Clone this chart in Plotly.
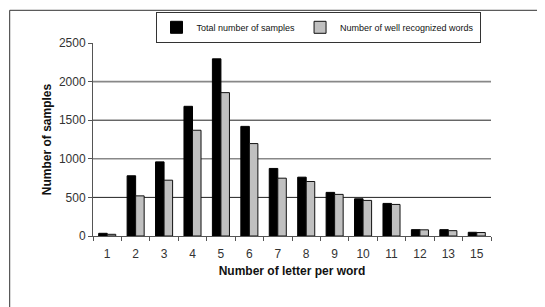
import plotly.graph_objects as go

categories = ["1", "2", "3", "4", "5", "6", "7", "8", "9", "10", "11", "12", "13", "15"]
total_samples = [35, 780, 960, 1680, 2295, 1420, 875, 762, 565, 482, 422, 82, 82, 48]
well_recognized = [22, 520, 723, 1370, 1857, 1197, 749, 706, 539, 461, 409, 80, 69, 45]
y_ticks = [0, 500, 1000, 1500, 2000, 2500]

# page body adds an 8px offset; compensate
OFF = 8
L, T = 93 - OFF, 42.7 - OFF
PW, PH = 398, 193
W, H = 545, 307

fig = go.Figure()
fig.add_trace(go.Bar(x=categories, y=total_samples, name="Total number of samples",
                     marker=dict(color="#000000", line=dict(color="#000000", width=1))))
fig.add_trace(go.Bar(x=categories, y=well_recognized, name="Number of well recognized words",
                     marker=dict(color="#c0c0c0", line=dict(color="#111111", width=1))))

# gridlines (alternating dark / light like the reference)
for i, v in enumerate(y_ticks[1:-1]):
    fig.add_shape(type="line", xref="paper", yref="y", x0=0, x1=1, y0=v, y1=v,
                  line=dict(color="#222222" if i % 2 == 0 else "#888888",
                            width=1 if i % 2 == 0 else 1.6),
                  layer="below")

# outer chart border
fig.add_shape(type="rect", xref="paper", yref="paper",
              x0=(9.7 - 93) / PW, x1=(570 - 93) / PW,
              y0=-(330 - 235.7) / PH, y1=1 + (42.7 - 10) / PH,
              line=dict(color="#333333", width=1), fillcolor="rgba(0,0,0,0)", layer="below")

fig.update_layout(
    width=W, height=H,
    margin=dict(l=L, r=W - L - PW, t=T, b=H - T - PH, autoexpand=False),
    paper_bgcolor="white", plot_bgcolor="white",
    barmode="group", bargap=0.4, bargroupgap=0,
    font=dict(family="Arial, Liberation Sans, sans-serif", size=12, color="#222222"),
    showlegend=True,
    legend=dict(orientation="h", x=(318 - 93) / PW, xanchor="center", y=1 + (42.7 - 11.5) / PH, yanchor="top",
                bordercolor="#333333", borderwidth=1, bgcolor="white",
                font=dict(family="Arial, Liberation Sans, sans-serif", size=9, color="#111111"),
                itemwidth=30, tracegroupgap=0),
    xaxis=dict(type="category", showline=True, linecolor="#555555", ticks="outside",
               tickson="boundaries", ticklen=4, tickcolor="#555555", showgrid=False,
               ticklabelstandoff=7,
               title=dict(text="<b>Number of letter per word</b>", font=dict(size=12, color="#111111"),
                          standoff=6),
               tickfont=dict(size=12, color="#333333")),
    yaxis=dict(range=[0, 2500], tickvals=y_ticks, showline=True, linecolor="#555555",
               ticks="outside", ticklen=4, tickcolor="#555555", showgrid=False, zeroline=False,
               title=dict(text="<b>Number of samples</b>", font=dict(size=12, color="#111111"),
                          standoff=4),
               tickfont=dict(size=12, color="#333333")),
)

fig.write_html("out.html")
